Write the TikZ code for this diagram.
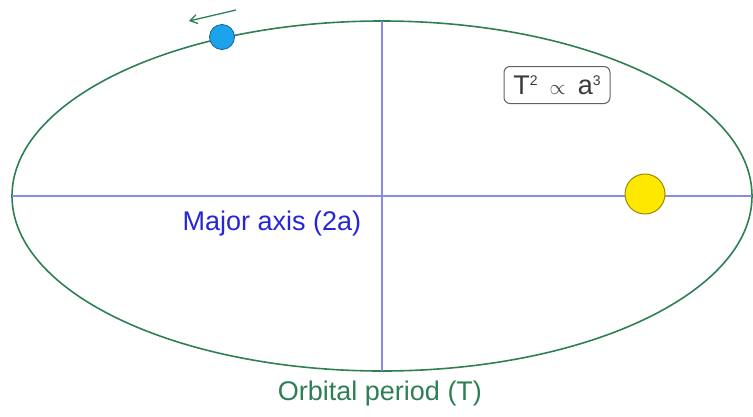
\documentclass[tikz,border=0pt]{standalone}
\usepackage{fontspec}
\setmainfont{Liberation Sans}
\usetikzlibrary{arrows.meta, positioning}
\definecolor{verdeorbita}{HTML}{2F7F55}
\definecolor{lilaeje}{HTML}{8A8AE6}
\definecolor{azultexto}{HTML}{2626D9}
\definecolor{azulplaneta}{HTML}{1CA3EC}
\definecolor{amarillosol}{HTML}{FFE800}
\definecolor{grisoscuro}{HTML}{3A3A3A}
\colorlet{colOrbita}{verdeorbita}
\colorlet{colEje}{lilaeje}
\colorlet{colTexto}{azultexto}
\colorlet{colPlaneta}{azulplaneta}
\colorlet{colSol}{amarillosol}
\colorlet{colGris}{grisoscuro}
\newcommand{\expo}[1]{\raisebox{9pt}{\fontsize{14}{14}\selectfont #1}}
\tikzset{
  orbita/.style={draw=colOrbita, line width=1.6pt},
  ejeLinea/.style={draw=colEje, line width=1.1pt},
  cuerpoSol/.style={circle, draw=colSol!60!black, fill=colSol, line width=1pt,
    minimum size=40pt, inner sep=0pt},
  cuerpoPlaneta/.style={circle, draw=colPlaneta!60!black, fill=colPlaneta, line width=0.8pt,
    minimum size=25pt, inner sep=0pt},
  etiqueta/.style={font=\fontsize{27}{32}\selectfont, inner sep=0pt},
  cajaFormula/.style={draw=colGris!80, rounded corners=6pt, line width=1pt,
    font=\fontsize{27}{30}\selectfont, text=colGris,
    minimum width=106pt, minimum height=37pt, inner sep=0pt},
  flecha/.style={-{Straight Barb[length=7pt, width=9pt]}, colOrbita, line width=1.3pt},
}

\begin{document}
\begin{tikzpicture}[x=1pt, y=-1pt]
  \useasboundingbox (0,0) rectangle (753,416);
  % orbita y ejes
  \coordinate (centro) at (382,196);
  \draw[orbita] (centro) ellipse [x radius=370pt, y radius=175pt];
  \coordinate (ejeIzq) at (12,196);
  \coordinate (ejeDer) at (752,196);
  \coordinate (ejeSup) at (382,21);
  \coordinate (ejeInf) at (382,371);
  \draw[ejeLinea] (ejeIzq) -- (ejeDer);
  \draw[ejeLinea] (ejeSup) -- (ejeInf);
  % cuerpos
  \node[cuerpoSol] (sol) at (645,194) {};
  \node[cuerpoPlaneta] (planeta) at (222,37) {};
  \coordinate (flechaIni) at (236,10);
  \coordinate (flechaFin) at (189,21);
  \draw[flecha] (flechaIni) -- (flechaFin);
  % textos
  \node[cajaFormula] (formula) at (557,85)
    {T\expo{2}\, {\fontsize{20}{20}\selectfont$\propto$}\, a\expo{3}};
  \node[etiqueta, text=colTexto] (ejeMayor) at (272,224) {Major axis (2a)};
  \node[etiqueta, text=colOrbita] (periodo) at (380,394) {Orbital period (T)};
\end{tikzpicture}
\end{document}
